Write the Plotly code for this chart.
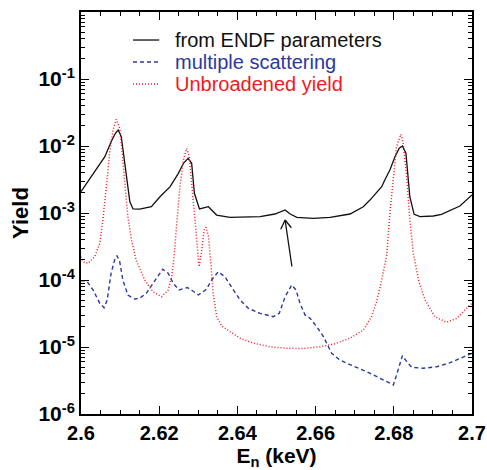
import plotly.graph_objects as go

# Neutron energy (keV) and capture yield for each curve
endf_E = [2.6000, 2.6018, 2.6039, 2.6061, 2.6077, 2.6088, 2.6095, 2.6103, 2.6112, 2.6120,
          2.6125, 2.6133, 2.6150, 2.6180, 2.6202, 2.6228, 2.6249, 2.6262, 2.6274, 2.6283,
          2.6290, 2.6303, 2.6313, 2.6326, 2.6334, 2.6347, 2.6381, 2.6407, 2.6458, 2.6496,
          2.6522, 2.6535, 2.6552, 2.6594, 2.6637, 2.6688, 2.6722, 2.6739, 2.6752, 2.6769,
          2.6777, 2.6790, 2.6803, 2.6814, 2.6822, 2.6831, 2.6841, 2.6852, 2.6867, 2.6901,
          2.6922, 2.6944, 2.6969, 2.7000]
endf_Y = [2.08e-3, 2.93e-3, 4.38e-3, 6.92e-3, 1.16e-2, 1.55e-2, 1.73e-2, 1.38e-2, 5.52e-3, 2.21e-3,
          1.47e-3, 1.15e-3, 1.14e-3, 1.24e-3, 1.75e-3, 2.47e-3, 3.91e-3, 5.52e-3, 6.55e-3, 5.52e-3,
          1.97e-3, 1.15e-3, 1.20e-3, 1.24e-3, 1.11e-3, 9.33e-4, 8.63e-4, 8.63e-4, 8.81e-4, 9.66e-4,
          1.11e-3, 9.66e-4, 8.63e-4, 8.34e-4, 8.63e-4, 9.66e-4, 1.24e-3, 1.56e-3, 1.92e-3, 2.47e-3,
          3.11e-3, 4.38e-3, 6.92e-3, 9.24e-3, 1.00e-2, 7.78e-3, 1.75e-3, 9.57e-4, 8.81e-4, 9.02e-4,
          9.57e-4, 1.08e-3, 1.27e-3, 1.86e-3]

ms_E = [2.6000, 2.6014, 2.6031, 2.6048, 2.6059, 2.6067, 2.6077, 2.6086, 2.6092, 2.6099,
        2.6107, 2.6120, 2.6137, 2.6150, 2.6167, 2.6184, 2.6197, 2.6209, 2.6223, 2.6236,
        2.6251, 2.6272, 2.6286, 2.6300, 2.6321, 2.6334, 2.6351, 2.6368, 2.6390, 2.6407,
        2.6428, 2.6458, 2.6492, 2.6507, 2.6522, 2.6539, 2.6550, 2.6560, 2.6573, 2.6586,
        2.6603, 2.6620, 2.6641, 2.6662, 2.6696, 2.6731, 2.6765, 2.6799, 2.6811, 2.6822,
        2.6833, 2.6846, 2.6875, 2.6910, 2.6944, 2.6969, 2.7000]
ms_Y = [9.77e-5, 9.77e-5, 7.09e-5, 4.49e-5, 3.86e-5, 5.03e-5, 1.26e-4, 1.99e-4, 2.31e-4, 1.88e-4,
        1.00e-4, 5.97e-5, 5.20e-5, 5.33e-5, 6.33e-5, 8.93e-5, 1.19e-4, 1.45e-4, 1.26e-4, 8.93e-5,
        7.09e-5, 7.73e-5, 6.85e-5, 5.97e-5, 7.27e-5, 1.00e-4, 1.33e-4, 1.12e-4, 7.09e-5, 5.03e-5,
        3.78e-5, 3.18e-5, 2.83e-5, 3.18e-5, 5.63e-5, 8.42e-5, 7.09e-5, 4.49e-5, 3.01e-5, 2.68e-5,
        2.01e-5, 1.43e-5, 8.05e-6, 6.40e-6, 5.20e-6, 4.28e-6, 3.41e-6, 2.71e-6, 4.54e-6, 7.41e-6,
        6.04e-6, 4.98e-6, 4.81e-6, 5.08e-6, 5.83e-6, 6.78e-6, 8.05e-6]

unb_E = [2.6000, 2.6005, 2.6018, 2.6035, 2.6048, 2.6056, 2.6065, 2.6073, 2.6082, 2.6090,
         2.6099, 2.6105, 2.6112, 2.6120, 2.6129, 2.6141, 2.6163, 2.6184, 2.6206, 2.6223,
         2.6232, 2.6238, 2.6245, 2.6253, 2.6262, 2.6270, 2.6277, 2.6283, 2.6292, 2.6302,
         2.6309, 2.6315, 2.6320, 2.6326, 2.6332, 2.6338, 2.6347, 2.6360, 2.6381, 2.6407,
         2.6441, 2.6483, 2.6526, 2.6569, 2.6611, 2.6645, 2.6688, 2.6722, 2.6743, 2.6756,
         2.6769, 2.6782, 2.6790, 2.6799, 2.6807, 2.6818, 2.6824, 2.6833, 2.6841, 2.6850,
         2.6863, 2.6880, 2.6905, 2.6935, 2.6961, 2.6982, 2.7000]
unb_Y = [2.23e-4, 1.88e-4, 1.77e-4, 2.23e-4, 3.53e-4, 7.86e-4, 2.47e-3, 7.78e-3, 1.73e-2, 2.50e-2,
         1.84e-2, 8.71e-3, 2.77e-3, 8.81e-4, 3.95e-4, 1.99e-4, 1.00e-4, 6.69e-5, 5.63e-5, 7.09e-5,
         1.12e-4, 2.23e-4, 7.02e-4, 2.47e-3, 6.18e-3, 9.24e-3, 6.92e-3, 2.77e-3, 5.57e-4, 1.58e-4,
         2.81e-4, 5.57e-4, 6.12e-4, 4.43e-4, 1.77e-4, 6.33e-5, 2.83e-5, 2.06e-5, 1.69e-5, 1.35e-5,
         1.14e-5, 1.01e-5, 9.57e-6, 9.50e-6, 1.01e-5, 1.10e-5, 1.35e-5, 1.79e-5, 2.83e-5, 4.74e-5,
         1.00e-4, 2.36e-4, 9.90e-4, 3.48e-3, 9.77e-3, 1.50e-2, 1.10e-2, 3.48e-3, 7.86e-4, 2.50e-4,
         1.00e-4, 5.03e-5, 2.83e-5, 2.34e-5, 2.68e-5, 3.57e-5, 4.49e-5]

series_names = ["from ENDF parameters", "multiple scattering", "Unbroadened yield"]

x_ticks = [2.6, 2.62, 2.64, 2.66, 2.68, 2.7]
x_ticktext = ["2.6", "2.62", "2.64", "2.66", "2.68", "2.7"]
y_exponents = [-6, -5, -4, -3, -2, -1, 0]
y_ticktext = ["10<sup>-6</sup>", "10<sup>-5</sup>", "10<sup>-4</sup>", "10<sup>-3</sup>",
              "10<sup>-2</sup>", "10<sup>-1</sup>", ""]

# Arrow pointing at the weak resonance near 2.652 keV (x in keV, y in log10 yield)
arrow_tip = (2.6522, -3.104)
arrow_tail = (2.6540, -3.821)
arrow_barbs = [(2.6509, -3.264), (2.6541, -3.243)]

BLACK = "#111111"
BLUE = "#2a3a9c"
RED = "#ec1c24"
FONT = "Liberation Sans, Arial, sans-serif"

styles = [
    dict(color=BLACK, width=1.3),
    dict(color=BLUE, width=1.4, dash="4px,3px"),
    dict(color=RED, width=1.5, dash="1px,2px"),
]
text_colors = [BLACK, BLUE, RED]

fig = go.Figure()
for (xs, ys), name, style in zip([(endf_E, endf_Y), (ms_E, ms_Y), (unb_E, unb_Y)],
                                 series_names, styles):
    fig.add_trace(go.Scatter(x=xs, y=ys, mode="lines", name=name, line=style,
                             showlegend=False))

# compact key in the upper left of the plot area (paper coordinates)
key_x0, key_x1, key_text_x = 0.133, 0.2, 0.238
key_rows = [0.9303, 0.8756, 0.8209]
for name, style, tcolor, yk in zip(series_names, styles, text_colors, key_rows):
    fig.add_shape(type="line", xref="paper", yref="paper",
                  x0=key_x0, x1=key_x1, y0=yk, y1=yk, line=style)
    fig.add_annotation(x=key_text_x, y=yk, xref="paper", yref="paper",
                       xanchor="left", yanchor="middle", showarrow=False, borderpad=0,
                       text=name, font=dict(family=FONT, size=20, color=tcolor))

# minor log ticks at 2..9 within each decade
y_minor = [m * 10.0 ** e for e in range(-6, 0) for m in range(2, 10)]

fig.update_xaxes(
    range=[2.6, 2.7], automargin=False,
    tickvals=x_ticks, ticktext=x_ticktext,
    ticks="inside", ticklen=8, tickwidth=1.3, tickcolor="black",
    minor=dict(dtick=0.005, tick0=2.6, ticks="inside", ticklen=4, tickwidth=1, tickcolor="black"),
    showline=True, linewidth=2, linecolor="black", mirror="ticks",
    showgrid=False, zeroline=False,
    tickfont=dict(family=FONT, size=20, color="black", weight="bold"),
    title=dict(text="E<sub>n</sub> (keV)", standoff=12,
               font=dict(family=FONT, size=21, color="black", weight="bold")),
)
fig.update_yaxes(
    type="log", range=[-6, 0], automargin=False,
    tickvals=[10.0 ** e for e in y_exponents], ticktext=y_ticktext,
    ticks="inside", ticklen=8, tickwidth=1.3, tickcolor="black",
    minor=dict(tickmode="array", tickvals=y_minor, ticks="inside", ticklen=4,
               tickwidth=1, tickcolor="black"),
    showline=True, linewidth=2, linecolor="black", mirror="ticks",
    showgrid=False, zeroline=False,
    tickfont=dict(family=FONT, size=21, color="black", weight="bold"),
    title=dict(text="Yield", standoff=4,
               font=dict(family=FONT, size=22, color="black", weight="bold")),
)

# arrow shaft and its two barbs
segments = [(arrow_tail, arrow_tip)] + [(b, arrow_tip) for b in arrow_barbs]
for start, end in segments:
    fig.add_annotation(
        x=end[0], y=end[1], ax=start[0], ay=start[1],
        xref="x", yref="y", axref="x", ayref="y",
        text="", showarrow=True, arrowhead=0, arrowwidth=1.3,
        arrowcolor=BLACK, font=dict(size=1), standoff=0, startstandoff=0,
    )

fig.update_layout(
    width=487, height=470,
    margin=dict(l=81, r=15, t=12, b=56, autoexpand=False),
    paper_bgcolor="white", plot_bgcolor="white",
    font=dict(family=FONT, color="black"),
    showlegend=False,
)

fig.write_html("out.html")
